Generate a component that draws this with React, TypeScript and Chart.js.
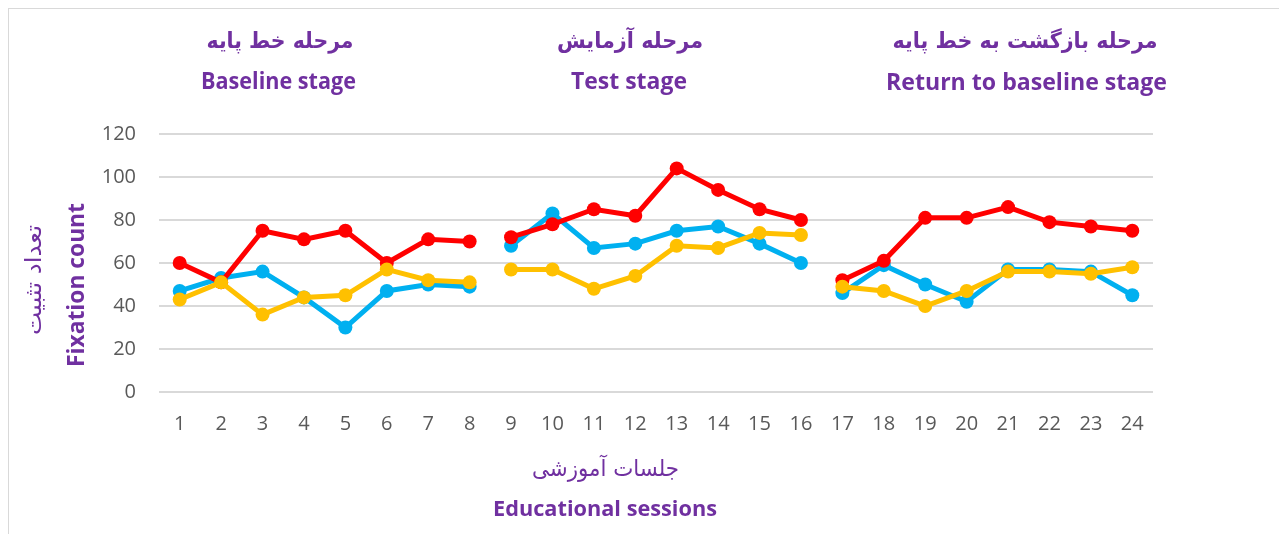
import React, { useEffect, useRef } from "react";
import { Chart, registerables } from "chart.js";

Chart.register(...registerables);

const sessions = ["1","2","3","4","5","6","7","8","9","10","11","12","13","14","15","16","17","18","19","20","21","22","23","24"];
const redSeries = [60, 51, 75, 71, 75, 60, 71, 70, 72, 78, 85, 82, 104, 94, 85, 80, 52, 61, 81, 81, 86, 79, 77, 75];
const blueSeries = [47, 53, 56, 44, 30, 47, 50, 49, 68, 83, 67, 69, 75, 77, 69, 60, 46, 59, 50, 42, 57, 57, 56, 45];
const yellowSeries = [43, 51, 36, 44, 45, 57, 52, 51, 57, 57, 48, 54, 68, 67, 74, 73, 49, 47, 40, 47, 56, 56, 55, 58];
// line is broken after these sessions (end of a stage)
const stageEnds = ["8", "16"];

const stageTitlesFa = ["مرحله خط پایه", "مرحله آزمایش", "مرحله بازگشت به خط پایه"];
const stageTitlesEn = ["Baseline stage", "Test stage", "Return to baseline stage"];
const yTitleFa = "تعداد تثبیت";
const yTitleEn = "Fixation count";
const xTitleFa = "جلسات آموزشی";
const xTitleEn = "Educational sessions";

const PURPLE = "#7030A0";

const titlesPlugin = {
  id: "titlesPlugin",
  afterDraw(chart: any) {
    const ctx = chart.ctx as CanvasRenderingContext2D;
    const txt = (text: string, x: number, y: number, font: string, maxW: number, rot = false, fit = false) => {
      ctx.save();
      ctx.fillStyle = PURPLE;
      ctx.font = font;
      ctx.textAlign = "center";
      ctx.textBaseline = "middle";
      ctx.translate(x, y);
      if (rot) ctx.rotate(-Math.PI / 2);
      const w = ctx.measureText(text).width;
      if (w > maxW || fit) {
        ctx.scale(maxW / w, 1);
      }
      ctx.fillText(text, 0, 0);
      ctx.restore();
    };
    const faFont = "bold 22px 'DejaVu Sans', sans-serif";
    const enFont = "bold 23px 'Open Sans', sans-serif";
    txt(stageTitlesFa[0], 271, 33, faFont, 147, false, true);
    txt(stageTitlesFa[1], 621, 33, faFont, 146, false, true);
    txt(stageTitlesFa[2], 1016, 33, faFont, 265, false, true);
    txt(stageTitlesEn[0], 269.5, 73, enFont, 155, false, true);
    txt(stageTitlesEn[1], 620, 73, enFont, 116, false, true);
    txt(stageTitlesEn[2], 1017.5, 74, enFont, 281, false, true);
    txt(yTitleFa, 26, 271, "23px 'DejaVu Sans', sans-serif", 110, true, true);
    txt(yTitleEn, 68, 276, "bold 23px 'Open Sans', sans-serif", 164, true, true);
    txt(xTitleFa, 596.5, 461, "23px 'DejaVu Sans', sans-serif", 147, false, true);
    txt(xTitleEn, 596, 501, "bold 21px 'Open Sans', sans-serif", 224, false, true);
  },
};

function makeDataset(label: string, data: number[], color: string, order: number) {
  return {
    label,
    data,
    borderColor: color,
    backgroundColor: color,
    borderWidth: 5,
    pointRadius: 7,
    pointHoverRadius: 7,
    pointBackgroundColor: color,
    pointBorderColor: color,
    pointBorderWidth: 0,
    tension: 0,
    order,
    segment: {
      borderColor: (c: any) =>
        stageEnds.includes(sessions[c.p0DataIndex]) ? "rgba(0,0,0,0)" : undefined,
    },
  };
}

export default function App() {
  const ref = useRef<HTMLCanvasElement>(null);
  useEffect(() => {
    document.documentElement.style.overflow = "hidden";
    document.body.style.overflow = "hidden";
    const chart = new Chart(ref.current!, {
      type: "line",
      data: {
        labels: sessions,
        datasets: [
          makeDataset("yellow", yellowSeries, "#FFC000", 0),
          makeDataset("red", redSeries, "#FF0000", 1),
          makeDataset("blue", blueSeries, "#00B0F0", 2),
        ] as any,
      },
      options: {
        responsive: false,
        animation: false,
        layout: { padding: { top: 125, right: 134, left: 0, bottom: 0 } },
        plugins: { legend: { display: false }, tooltip: { enabled: false }, title: { display: false } },
        scales: {
          x: {
            offset: true,
            grid: { display: false, drawTicks: false },
            border: { display: false },
            ticks: {
              color: "#595959",
              font: { family: "'Open Sans', sans-serif", size: 20 },
              padding: 20,
              maxRotation: 0,
              autoSkip: false,
            },
            afterFit: (s: any) => {
              s.height = 142;
            },
          },
          y: {
            min: 0,
            max: 120,
            grid: { color: "#d9d9d9", lineWidth: 2, drawTicks: false },
            border: { display: false },
            ticks: {
              stepSize: 20,
              color: "#595959",
              font: { family: "'Open Sans', sans-serif", size: 20 },
              padding: 23,
            },
            afterFit: (s: any) => {
              s.width = 150;
            },
          },
        },
      },
      plugins: [titlesPlugin],
    });
    return () => chart.destroy();
  }, []);
  return (
    <div
      style={{
        width: 1278,
        height: 525,
        borderTop: "1px solid #d9d9d9",
        borderLeft: "1px solid #d9d9d9",
        background: "#fff",
      }}
    >
      <canvas ref={ref} width={1278} height={525} style={{ display: "block" }} />
    </div>
  );
}
